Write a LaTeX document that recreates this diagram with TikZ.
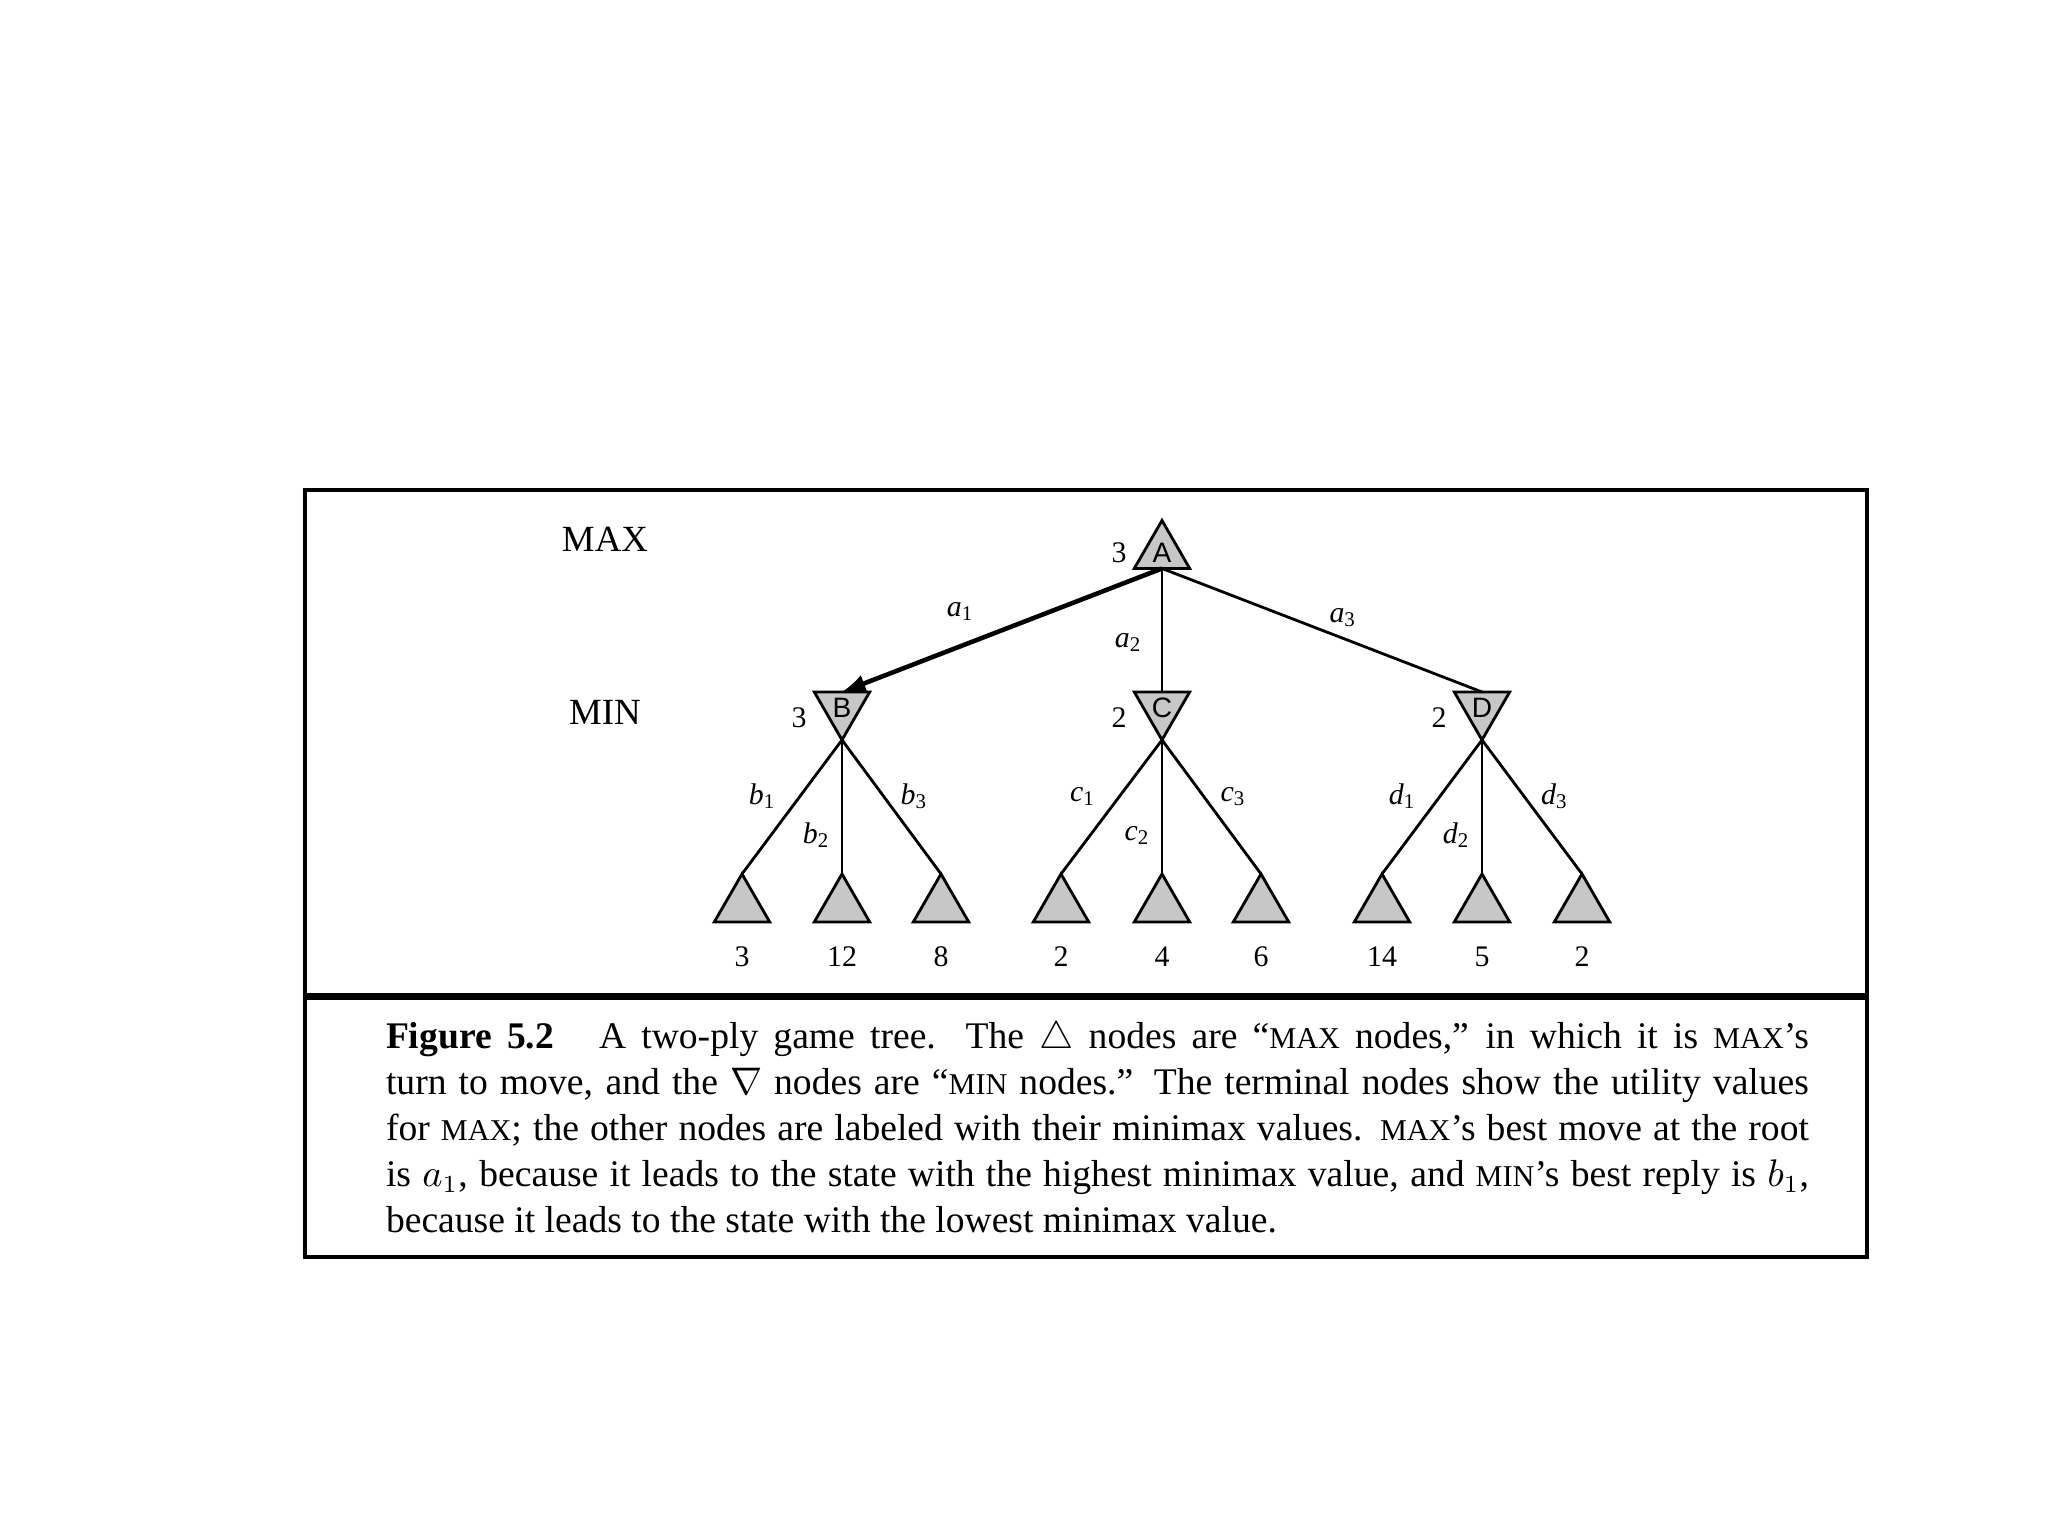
\documentclass[tikz,border=0pt]{standalone}
\usepackage{fontspec}
\setmainfont{Liberation Serif}
\newfontfamily\lettfont{Liberation Sans}
\usetikzlibrary{shapes.geometric}
\colorlet{tri-gray}{black!22}
\newcommand{\capsc}[1]{{\fontsize{8.6}{10}\selectfont #1}}
\newcommand{\elab}[2]{\textit{#1}\textsubscript{#2}}

\begin{document}
\begin{tikzpicture}[every node/.style={inner sep=0pt, outer sep=0pt},
    maxnode/.style={regular polygon, regular polygon sides=3, draw, line width=0.8pt,
      fill=tri-gray, minimum size=0.64cm, font=\lettfont\fontsize{8}{9}\selectfont},
    minnode/.style={maxnode, shape border rotate=180},
    value/.style={font=\fontsize{8.5}{10}\selectfont},
    edgelab/.style={font=\fontsize{8.5}{10}\selectfont},
    edge/.style={line width=0.8pt}]
  \fill[white] (0,0) rectangle (20.48,15.36);
  \useasboundingbox (0,0) rectangle (20.48,15.36);
  \draw[line width=1.2pt] (3.05,2.79) rectangle (18.67,10.46);
  \draw[line width=2.2pt] (3.05,5.395) -- (18.67,5.395);

  \node[font=\fontsize{10.5}{12}\selectfont] (maxlbl) at (6.05,9.97) {MAX};
  \node[font=\fontsize{10.5}{12}\selectfont] (minlbl) at (6.05,8.24) {MIN};

  \node[maxnode, label={[value, label distance=0.17cm]left:3}] (A) at (11.62,9.835) {A};
  \node[minnode, label={[value, label distance=0.17cm, yshift=-0.1cm]left:3}] (B) at (8.42,8.28) {B};
  \node[minnode, label={[value, label distance=0.17cm, yshift=-0.1cm]left:2}] (C) at (11.62,8.28) {C};
  \node[minnode, label={[value, label distance=0.17cm, yshift=-0.1cm]left:2}] (D) at (14.82,8.28) {D};

  \node[maxnode, label={[value, label distance=0.25cm]below:3}] (b1) at (7.42,6.30) {};
  \node[maxnode, label={[value, label distance=0.25cm]below:12}] (b2) at (8.42,6.30) {};
  \node[maxnode, label={[value, label distance=0.25cm]below:8}] (b3) at (9.41,6.30) {};
  \node[maxnode, label={[value, label distance=0.25cm]below:2}] (c1) at (10.61,6.30) {};
  \node[maxnode, label={[value, label distance=0.25cm]below:4}] (c2) at (11.62,6.30) {};
  \node[maxnode, label={[value, label distance=0.25cm]below:6}] (c3) at (12.61,6.30) {};
  \node[maxnode, label={[value, label distance=0.25cm]below:14}] (d1) at (13.82,6.30) {};
  \node[maxnode, label={[value, label distance=0.25cm]below:5}] (d2) at (14.82,6.30) {};
  \node[maxnode, label={[value, label distance=0.25cm]below:2}] (d3) at (15.82,6.30) {};

  \draw[-latex, line width=1.3pt] (A.side 2) -- node[edgelab, pos=0.63, above=0.26cm] {\elab{a}{1}} (B.side 2);
  \draw[edge] (A.side 2) -- node[edgelab, pos=0.6, left=0.2cm] {\elab{a}{2}} (C.side 2);
  \draw[edge] (A.side 2) -- node[edgelab, pos=0.566, above=0.12cm] {\elab{a}{3}} (D.side 2);

  \draw[edge] (B.corner 1) -- node[edgelab, pos=0.42, left=0.24cm] {\elab{b}{1}} (b1.corner 1);
  \draw[edge] (B.corner 1) -- node[edgelab, pos=0.71, left=0.12cm] {\elab{b}{2}} (b2.corner 1);
  \draw[edge] (B.corner 1) -- node[edgelab, pos=0.42, right=0.17cm] {\elab{b}{3}} (b3.corner 1);
  \draw[edge] (C.corner 1) -- node[edgelab, pos=0.42, left=0.24cm] {\elab{c}{1}} (c1.corner 1);
  \draw[edge] (C.corner 1) -- node[edgelab, pos=0.71, left=0.12cm] {\elab{c}{2}} (c2.corner 1);
  \draw[edge] (C.corner 1) -- node[edgelab, pos=0.42, right=0.17cm] {\elab{c}{3}} (c3.corner 1);
  \draw[edge] (D.corner 1) -- node[edgelab, pos=0.42, left=0.24cm] {\elab{d}{1}} (d1.corner 1);
  \draw[edge] (D.corner 1) -- node[edgelab, pos=0.71, left=0.12cm] {\elab{d}{2}} (d2.corner 1);
  \draw[edge] (D.corner 1) -- node[edgelab, pos=0.42, right=0.17cm] {\elab{d}{3}} (d3.corner 1);

  \node[anchor=base west, text width=14.23cm, align=justify,
    font=\fontsize{10.7}{13.05}\selectfont] (caption) at (3.86,4.87)
    {\textbf{Figure 5.2}\hspace{0.45cm}A two-ply game tree.  The $\triangle$ nodes are “\capsc{MAX} nodes,” in which it is \capsc{MAX}’s\linebreak
     turn to move, and the $\nabla$ nodes are “\capsc{MIN} nodes.” The terminal nodes show the utility values\linebreak
     for \capsc{MAX}; the other nodes are labeled with their minimax values. \capsc{MAX}’s best move at the root\linebreak
     is $a_1$, because it leads to the state with the highest minimax value, and \capsc{MIN}’s best reply is $b_1$,\linebreak
     because it leads to the state with the lowest minimax value.};
\end{tikzpicture}
\end{document}
